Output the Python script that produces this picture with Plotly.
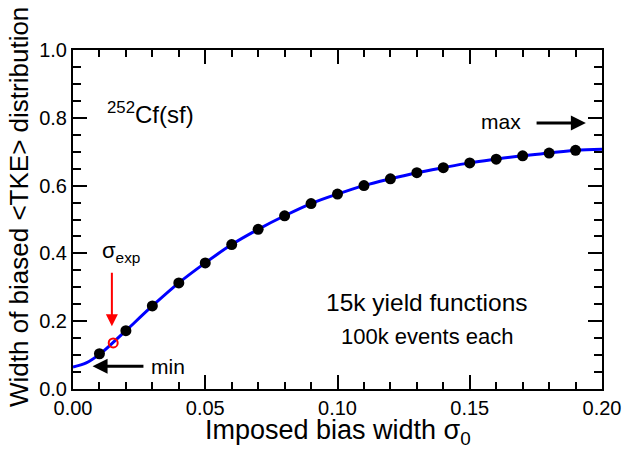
import plotly.graph_objects as go

# data points (imposed bias width, width of biased <TKE> distribution)
sigma0 = [0.01, 0.02, 0.03, 0.04, 0.05, 0.06, 0.07, 0.08, 0.09, 0.10,
          0.11, 0.12, 0.13, 0.14, 0.15, 0.16, 0.17, 0.18, 0.19]
width = [0.104, 0.172, 0.245, 0.313, 0.372, 0.426, 0.471, 0.511, 0.547, 0.575,
         0.600, 0.620, 0.638, 0.653, 0.667, 0.678, 0.688, 0.696, 0.704]

# smooth fitted curve
curve_x = [0.0, 0.005, 0.01, 0.015, 0.02, 0.03, 0.04, 0.05, 0.06, 0.07, 0.08,
           0.09, 0.10, 0.11, 0.12, 0.13, 0.14, 0.15, 0.16, 0.17, 0.18, 0.19, 0.20]
curve_y = [0.065, 0.077, 0.102, 0.136, 0.172, 0.245, 0.313, 0.372, 0.426, 0.471,
           0.511, 0.547, 0.575, 0.600, 0.620, 0.638, 0.653, 0.667, 0.678, 0.688,
           0.696, 0.704, 0.707]

# experimental point
sigma_exp_x = [0.0152]
sigma_exp_y = [0.136]

# tick positions (labels formatted "0.00" / "0.0")
x_ticks = [0.00, 0.05, 0.10, 0.15, 0.20]
y_ticks = [0.0, 0.2, 0.4, 0.6, 0.8, 1.0]
x_tickformat = ".2f"
y_tickformat = ".1f"

FONT = "Liberation Sans, Arial, sans-serif"

fig = go.Figure()
fig.add_trace(go.Scatter(x=curve_x, y=curve_y, mode="lines",
                         line=dict(color="#0000ff", width=3, shape="spline"),
                         hoverinfo="skip", showlegend=False))
fig.add_trace(go.Scatter(x=sigma0, y=width, mode="markers",
                         marker=dict(color="black", size=11),
                         showlegend=False))
fig.add_trace(go.Scatter(x=sigma_exp_x, y=sigma_exp_y, mode="markers",
                         marker=dict(symbol="circle-open", color="red", size=9,
                                     line=dict(width=2, color="red")),
                         showlegend=False))

axis_common = dict(showline=True, linecolor="black", linewidth=2, mirror="allticks",
                   ticks="inside", ticklen=14, tickwidth=2, tickcolor="black",
                   showgrid=False, zeroline=False, automargin=False,
                   tickfont=dict(family=FONT, size=20, color="black"))

fig.update_xaxes(range=[x_ticks[0], x_ticks[-1]], tick0=x_ticks[0],
                 dtick=x_ticks[1] - x_ticks[0], tickformat=x_tickformat,
                 minor=dict(dtick=0.01, ticks="inside", ticklen=7, tickwidth=2,
                            tickcolor="black"),
                 **axis_common)
fig.update_yaxes(range=[y_ticks[0], y_ticks[-1]], tick0=y_ticks[0],
                 dtick=y_ticks[1] - y_ticks[0], tickformat=y_tickformat,
                 minor=dict(dtick=0.05, ticks="inside", ticklen=8, tickwidth=2,
                            tickcolor="black"),
                 **axis_common)

ann = []
# arrows
ann.append(dict(x=0.0147, y=0.185, ax=0.0147, ay=0.347, xref="x", yref="y",
                axref="x", ayref="y", text="", showarrow=True, arrowhead=2,
                arrowsize=1.2, arrowwidth=2, arrowcolor="red", standoff=0))
ann.append(dict(x=0.0074, y=0.067, ax=0.0272, ay=0.067, xref="x", yref="y",
                axref="x", ayref="y", text="", showarrow=True, arrowhead=2,
                arrowsize=1.0, arrowwidth=3, arrowcolor="black", standoff=0))
ann.append(dict(x=0.1939, y=0.785, ax=0.1747, ay=0.785, xref="x", yref="y",
                axref="x", ayref="y", text="", showarrow=True, arrowhead=2,
                arrowsize=1.0, arrowwidth=3, arrowcolor="black", standoff=0))
# texts
ann.append(dict(x=0.0125, y=0.815, xref="x", yref="y", text="<sup>252</sup>Cf(sf)",
                showarrow=False, xanchor="left", yanchor="middle", borderpad=0,
                font=dict(family=FONT, size=24, color="black")))
ann.append(dict(x=0.1698, y=0.788, xref="x", yref="y", text="max",
                showarrow=False, xanchor="right", yanchor="middle", borderpad=0,
                font=dict(family=FONT, size=21, color="black")))
ann.append(dict(x=0.0291, y=0.066, xref="x", yref="y", text="min",
                showarrow=False, xanchor="left", yanchor="middle", borderpad=0,
                font=dict(family=FONT, size=21, color="black")))
ann.append(dict(x=0.0105, y=0.405, xref="x", yref="y", text="σ<sub>exp</sub>",
                showarrow=False, xanchor="left", yanchor="middle", borderpad=0,
                font=dict(family=FONT, size=22, color="black")))
ann.append(dict(x=0.1337, y=0.255, xref="x", yref="y", text="15k yield functions",
                showarrow=False, xanchor="center", yanchor="middle", borderpad=0,
                font=dict(family=FONT, size=24.5, color="black")))
ann.append(dict(x=0.1337, y=0.155, xref="x", yref="y", text="100k events each",
                showarrow=False, xanchor="center", yanchor="middle", borderpad=0,
                font=dict(family=FONT, size=22, color="black")))
# axis titles
ann.append(dict(x=0.501, y=-0.128, xref="paper", yref="paper",
                text="Imposed bias width σ<sub>0</sub>", showarrow=False,
                xanchor="center", yanchor="middle", borderpad=0,
                font=dict(family=FONT, size=27, color="black")))
ann.append(dict(x=-0.102, y=0.537, xref="paper", yref="paper",
                text="Width of biased &lt;TKE&gt; distribution", showarrow=False,
                textangle=-90, xanchor="center", yanchor="middle", borderpad=0,
                font=dict(family=FONT, size=26, color="black")))

fig.update_layout(width=623, height=456, plot_bgcolor="white", paper_bgcolor="white",
                  margin=dict(l=73, r=21, t=50, b=67, autoexpand=False),
                  annotations=ann, showlegend=False)

fig.write_html("out.html", config={"displayModeBar": False},
               post_script="document.body.style.margin='0';document.body.style.padding='0';")
